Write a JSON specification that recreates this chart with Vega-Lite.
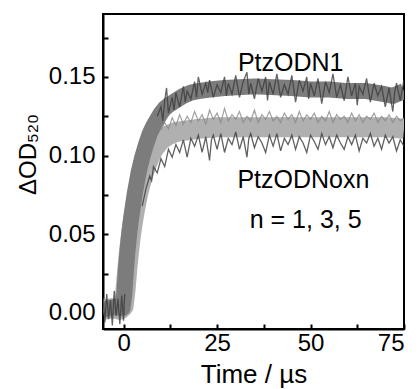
{
  "$schema": "https://vega.github.io/schema/vega-lite/v6.json",
  "autosize": "none",
  "width": 301,
  "height": 315,
  "padding": {"left": 103, "top": 14, "right": 14, "bottom": 60},
  "background": "white",
  "config": {
    "view": {"stroke": "black", "strokeWidth": 2},
    "font": "Liberation Sans",
    "axis": {
      "grid": false,
      "domainColor": "black",
      "domainWidth": 2,
      "tickColor": "black",
      "tickWidth": 2,
      "tickSize": -5,
      "labelFont": "Liberation Sans",
      "labelFontSize": 24,
      "labelColor": "black",
      "titleFont": "Liberation Sans",
      "titleFontWeight": "normal",
      "titleColor": "black"
    }
  },
  "datasets": {
    "centers": [
      {"s": "PtzODNoxn", "t": -5.5, "v": 0.002}, {"s": "PtzODNoxn", "t": -3, "v": 0.003}, {"s": "PtzODNoxn", "t": -1, "v": 0.002}, {"s": "PtzODNoxn", "t": 0, "v": 0.004},
      {"s": "PtzODNoxn", "t": 0.5, "v": 0.014}, {"s": "PtzODNoxn", "t": 1, "v": 0.028}, {"s": "PtzODNoxn", "t": 1.5, "v": 0.040}, {"s": "PtzODNoxn", "t": 2, "v": 0.050},
      {"s": "PtzODNoxn", "t": 2.5, "v": 0.058}, {"s": "PtzODNoxn", "t": 3, "v": 0.065}, {"s": "PtzODNoxn", "t": 4, "v": 0.077}, {"s": "PtzODNoxn", "t": 5, "v": 0.086},
      {"s": "PtzODNoxn", "t": 6, "v": 0.093}, {"s": "PtzODNoxn", "t": 7, "v": 0.099}, {"s": "PtzODNoxn", "t": 8, "v": 0.104}, {"s": "PtzODNoxn", "t": 9, "v": 0.107},
      {"s": "PtzODNoxn", "t": 10, "v": 0.110}, {"s": "PtzODNoxn", "t": 12, "v": 0.113}, {"s": "PtzODNoxn", "t": 14, "v": 0.115}, {"s": "PtzODNoxn", "t": 17, "v": 0.116},
      {"s": "PtzODNoxn", "t": 20, "v": 0.117}, {"s": "PtzODNoxn", "t": 25, "v": 0.118}, {"s": "PtzODNoxn", "t": 30, "v": 0.118}, {"s": "PtzODNoxn", "t": 40, "v": 0.118},
      {"s": "PtzODNoxn", "t": 50, "v": 0.118}, {"s": "PtzODNoxn", "t": 60, "v": 0.118}, {"s": "PtzODNoxn", "t": 70, "v": 0.118}, {"s": "PtzODNoxn", "t": 75, "v": 0.117},
      {"s": "PtzODN1", "t": -5.5, "v": 0.002}, {"s": "PtzODN1", "t": -4, "v": 0.003}, {"s": "PtzODN1", "t": -2, "v": 0.004}, {"s": "PtzODN1", "t": -0.3, "v": 0.003},
      {"s": "PtzODN1", "t": 0.2, "v": 0.012}, {"s": "PtzODN1", "t": 0.6, "v": 0.026}, {"s": "PtzODN1", "t": 1, "v": 0.038}, {"s": "PtzODN1", "t": 1.5, "v": 0.050}, {"s": "PtzODN1", "t": 2, "v": 0.060},
      {"s": "PtzODN1", "t": 2.5, "v": 0.068}, {"s": "PtzODN1", "t": 3, "v": 0.076}, {"s": "PtzODN1", "t": 4, "v": 0.089}, {"s": "PtzODN1", "t": 5, "v": 0.099},
      {"s": "PtzODN1", "t": 6, "v": 0.107}, {"s": "PtzODN1", "t": 7, "v": 0.114}, {"s": "PtzODN1", "t": 8, "v": 0.119}, {"s": "PtzODN1", "t": 9, "v": 0.123},
      {"s": "PtzODN1", "t": 10, "v": 0.127}, {"s": "PtzODN1", "t": 11, "v": 0.130}, {"s": "PtzODN1", "t": 12, "v": 0.132}, {"s": "PtzODN1", "t": 14, "v": 0.135},
      {"s": "PtzODN1", "t": 16, "v": 0.138}, {"s": "PtzODN1", "t": 18, "v": 0.140}, {"s": "PtzODN1", "t": 20, "v": 0.141}, {"s": "PtzODN1", "t": 23, "v": 0.142},
      {"s": "PtzODN1", "t": 27, "v": 0.143}, {"s": "PtzODN1", "t": 35, "v": 0.144}, {"s": "PtzODN1", "t": 45, "v": 0.143}, {"s": "PtzODN1", "t": 50, "v": 0.142},
      {"s": "PtzODN1", "t": 55, "v": 0.142}, {"s": "PtzODN1", "t": 60, "v": 0.141}, {"s": "PtzODN1", "t": 65, "v": 0.141}, {"s": "PtzODN1", "t": 70, "v": 0.139},
      {"s": "PtzODN1", "t": 72, "v": 0.138}, {"s": "PtzODN1", "t": 75, "v": 0.141}
    ],
    "noise": [
      {"s": "B", "t": -5.5, "v": 0.010}, {"s": "B", "t": -5, "v": -0.006}, {"s": "B", "t": -4.5, "v": 0.012}, {"s": "B", "t": -4, "v": -0.004},
      {"s": "B", "t": -3.5, "v": 0.008}, {"s": "B", "t": -3, "v": -0.008}, {"s": "B", "t": -2.5, "v": 0.014}, {"s": "B", "t": -2, "v": -0.002},
      {"s": "B", "t": -1.5, "v": 0.009}, {"s": "B", "t": -1, "v": -0.007}, {"s": "B", "t": -0.5, "v": 0.011}, {"s": "B", "t": 0, "v": -0.005}, {"s": "B", "t": 0.3, "v": 0.012},
      {"s": "N1", "t": 9, "v": 0.125}, {"s": "N1", "t": 10, "v": 0.131}, {"s": "N1", "t": 10.5, "v": 0.122}, {"s": "N1", "t": 11, "v": 0.135},
      {"s": "N1", "t": 11.5, "v": 0.143}, {"s": "N1", "t": 12, "v": 0.127}, {"s": "N1", "t": 13, "v": 0.137}, {"s": "N1", "t": 13.5, "v": 0.129},
      {"s": "N1", "t": 14, "v": 0.140}, {"s": "N1", "t": 15, "v": 0.131}, {"s": "N1", "t": 16, "v": 0.144}, {"s": "N1", "t": 16.5, "v": 0.134},
      {"s": "N1", "t": 17, "v": 0.141}, {"s": "N1", "t": 18, "v": 0.136}, {"s": "N1", "t": 19, "v": 0.147}, {"s": "N1", "t": 19.5, "v": 0.137},
      {"s": "N1", "t": 20, "v": 0.150}, {"s": "N1", "t": 21, "v": 0.139}, {"s": "N1", "t": 22, "v": 0.146}, {"s": "N1", "t": 22.5, "v": 0.140},
      {"s": "N1", "t": 23, "v": 0.148}, {"s": "N1", "t": 24, "v": 0.137}, {"s": "N1", "t": 25, "v": 0.145}, {"s": "N1", "t": 26, "v": 0.140},
      {"s": "N1", "t": 27, "v": 0.150}, {"s": "N1", "t": 27.5, "v": 0.138}, {"s": "N1", "t": 28, "v": 0.146}, {"s": "N1", "t": 29, "v": 0.139},
      {"s": "N1", "t": 30, "v": 0.151}, {"s": "N1", "t": 31, "v": 0.137}, {"s": "N1", "t": 32, "v": 0.147}, {"s": "N1", "t": 33, "v": 0.153},
      {"s": "N1", "t": 33.5, "v": 0.139}, {"s": "N1", "t": 34, "v": 0.146}, {"s": "N1", "t": 35, "v": 0.136}, {"s": "N1", "t": 36, "v": 0.149},
      {"s": "N1", "t": 37, "v": 0.141}, {"s": "N1", "t": 38, "v": 0.150}, {"s": "N1", "t": 38.5, "v": 0.135}, {"s": "N1", "t": 39, "v": 0.147},
      {"s": "N1", "t": 40, "v": 0.139}, {"s": "N1", "t": 41, "v": 0.152}, {"s": "N1", "t": 42, "v": 0.137}, {"s": "N1", "t": 43, "v": 0.145},
      {"s": "N1", "t": 44, "v": 0.139}, {"s": "N1", "t": 45, "v": 0.151}, {"s": "N1", "t": 46, "v": 0.134}, {"s": "N1", "t": 47, "v": 0.148},
      {"s": "N1", "t": 48, "v": 0.141}, {"s": "N1", "t": 49, "v": 0.150}, {"s": "N1", "t": 49.5, "v": 0.136}, {"s": "N1", "t": 50, "v": 0.146},
      {"s": "N1", "t": 51, "v": 0.138}, {"s": "N1", "t": 52, "v": 0.149}, {"s": "N1", "t": 53, "v": 0.133}, {"s": "N1", "t": 54, "v": 0.147},
      {"s": "N1", "t": 55, "v": 0.140}, {"s": "N1", "t": 56, "v": 0.152}, {"s": "N1", "t": 57, "v": 0.137}, {"s": "N1", "t": 58, "v": 0.145},
      {"s": "N1", "t": 59, "v": 0.135}, {"s": "N1", "t": 60, "v": 0.150}, {"s": "N1", "t": 61, "v": 0.138}, {"s": "N1", "t": 62, "v": 0.146},
      {"s": "N1", "t": 62.5, "v": 0.132}, {"s": "N1", "t": 63, "v": 0.144}, {"s": "N1", "t": 64, "v": 0.139}, {"s": "N1", "t": 65, "v": 0.149},
      {"s": "N1", "t": 66, "v": 0.134}, {"s": "N1", "t": 67, "v": 0.146}, {"s": "N1", "t": 68, "v": 0.138}, {"s": "N1", "t": 69, "v": 0.144},
      {"s": "N1", "t": 70, "v": 0.131}, {"s": "N1", "t": 71, "v": 0.143}, {"s": "N1", "t": 72, "v": 0.128}, {"s": "N1", "t": 72.5, "v": 0.140},
      {"s": "N1", "t": 73, "v": 0.146}, {"s": "N1", "t": 74, "v": 0.135}, {"s": "N1", "t": 75, "v": 0.148},
      {"s": "OX", "t": 5, "v": 0.068}, {"s": "OX", "t": 6, "v": 0.079}, {"s": "OX", "t": 7, "v": 0.087}, {"s": "OX", "t": 7.5, "v": 0.084},
      {"s": "OX", "t": 8, "v": 0.093}, {"s": "OX", "t": 9, "v": 0.089}, {"s": "OX", "t": 10, "v": 0.098}, {"s": "OX", "t": 11, "v": 0.093},
      {"s": "OX", "t": 12, "v": 0.104}, {"s": "OX", "t": 13, "v": 0.099}, {"s": "OX", "t": 14, "v": 0.107}, {"s": "OX", "t": 15, "v": 0.102},
      {"s": "OX", "t": 16, "v": 0.110}, {"s": "OX", "t": 17, "v": 0.099}, {"s": "OX", "t": 18, "v": 0.111}, {"s": "OX", "t": 19, "v": 0.106},
      {"s": "OX", "t": 20, "v": 0.113}, {"s": "OX", "t": 21, "v": 0.102}, {"s": "OX", "t": 22, "v": 0.112}, {"s": "OX", "t": 23, "v": 0.097},
      {"s": "OX", "t": 23.5, "v": 0.110}, {"s": "OX", "t": 24, "v": 0.113}, {"s": "OX", "t": 25, "v": 0.104}, {"s": "OX", "t": 26, "v": 0.114},
      {"s": "OX", "t": 27, "v": 0.102}, {"s": "OX", "t": 28, "v": 0.111}, {"s": "OX", "t": 29, "v": 0.107}, {"s": "OX", "t": 30, "v": 0.115},
      {"s": "OX", "t": 31, "v": 0.104}, {"s": "OX", "t": 32, "v": 0.112}, {"s": "OX", "t": 33, "v": 0.099}, {"s": "OX", "t": 33.5, "v": 0.111},
      {"s": "OX", "t": 34, "v": 0.114}, {"s": "OX", "t": 35, "v": 0.105}, {"s": "OX", "t": 36, "v": 0.112}, {"s": "OX", "t": 37, "v": 0.108},
      {"s": "OX", "t": 38, "v": 0.102}, {"s": "OX", "t": 39, "v": 0.113}, {"s": "OX", "t": 40, "v": 0.106}, {"s": "OX", "t": 41, "v": 0.114},
      {"s": "OX", "t": 42, "v": 0.103}, {"s": "OX", "t": 43, "v": 0.111}, {"s": "OX", "t": 44, "v": 0.107}, {"s": "OX", "t": 45, "v": 0.113},
      {"s": "OX", "t": 46, "v": 0.104}, {"s": "OX", "t": 47, "v": 0.112}, {"s": "OX", "t": 48, "v": 0.108}, {"s": "OX", "t": 49, "v": 0.102},
      {"s": "OX", "t": 50, "v": 0.113}, {"s": "OX", "t": 51, "v": 0.109}, {"s": "OX", "t": 52, "v": 0.104}, {"s": "OX", "t": 53, "v": 0.114},
      {"s": "OX", "t": 54, "v": 0.107}, {"s": "OX", "t": 55, "v": 0.112}, {"s": "OX", "t": 56, "v": 0.105}, {"s": "OX", "t": 57, "v": 0.113},
      {"s": "OX", "t": 58, "v": 0.108}, {"s": "OX", "t": 59, "v": 0.104}, {"s": "OX", "t": 60, "v": 0.112}, {"s": "OX", "t": 61, "v": 0.107},
      {"s": "OX", "t": 62, "v": 0.113}, {"s": "OX", "t": 63, "v": 0.103}, {"s": "OX", "t": 64, "v": 0.111}, {"s": "OX", "t": 65, "v": 0.108},
      {"s": "OX", "t": 66, "v": 0.114}, {"s": "OX", "t": 67, "v": 0.106}, {"s": "OX", "t": 68, "v": 0.111}, {"s": "OX", "t": 69, "v": 0.104},
      {"s": "OX", "t": 70, "v": 0.113}, {"s": "OX", "t": 71, "v": 0.108}, {"s": "OX", "t": 72, "v": 0.112}, {"s": "OX", "t": 73, "v": 0.103},
      {"s": "OX", "t": 74, "v": 0.110}, {"s": "OX", "t": 75, "v": 0.106},
      {"s": "OXU", "t": 10, "v": 0.116}, {"s": "OXU", "t": 11, "v": 0.121}, {"s": "OXU", "t": 12, "v": 0.117}, {"s": "OXU", "t": 13, "v": 0.124},
      {"s": "OXU", "t": 14, "v": 0.119}, {"s": "OXU", "t": 15, "v": 0.126}, {"s": "OXU", "t": 16, "v": 0.120}, {"s": "OXU", "t": 17, "v": 0.125},
      {"s": "OXU", "t": 18, "v": 0.121}, {"s": "OXU", "t": 19, "v": 0.128}, {"s": "OXU", "t": 20, "v": 0.122}, {"s": "OXU", "t": 21, "v": 0.126},
      {"s": "OXU", "t": 22, "v": 0.120}, {"s": "OXU", "t": 23, "v": 0.129}, {"s": "OXU", "t": 24, "v": 0.123}, {"s": "OXU", "t": 25, "v": 0.127},
      {"s": "OXU", "t": 26, "v": 0.121}, {"s": "OXU", "t": 27, "v": 0.130}, {"s": "OXU", "t": 28, "v": 0.122}, {"s": "OXU", "t": 29, "v": 0.126},
      {"s": "OXU", "t": 30, "v": 0.123}, {"s": "OXU", "t": 31, "v": 0.128}, {"s": "OXU", "t": 32, "v": 0.121}, {"s": "OXU", "t": 33, "v": 0.125},
      {"s": "OXU", "t": 34, "v": 0.122}, {"s": "OXU", "t": 35, "v": 0.129}, {"s": "OXU", "t": 36, "v": 0.121}, {"s": "OXU", "t": 37, "v": 0.126},
      {"s": "OXU", "t": 38, "v": 0.123}, {"s": "OXU", "t": 39, "v": 0.128}, {"s": "OXU", "t": 40, "v": 0.122}, {"s": "OXU", "t": 41, "v": 0.125},
      {"s": "OXU", "t": 42, "v": 0.121}, {"s": "OXU", "t": 43, "v": 0.127}, {"s": "OXU", "t": 44, "v": 0.123}, {"s": "OXU", "t": 45, "v": 0.126},
      {"s": "OXU", "t": 46, "v": 0.121}, {"s": "OXU", "t": 47, "v": 0.128}, {"s": "OXU", "t": 48, "v": 0.122}, {"s": "OXU", "t": 49, "v": 0.126},
      {"s": "OXU", "t": 50, "v": 0.123}, {"s": "OXU", "t": 51, "v": 0.127}, {"s": "OXU", "t": 52, "v": 0.121}, {"s": "OXU", "t": 53, "v": 0.125},
      {"s": "OXU", "t": 54, "v": 0.122}, {"s": "OXU", "t": 55, "v": 0.128}, {"s": "OXU", "t": 56, "v": 0.121}, {"s": "OXU", "t": 57, "v": 0.126},
      {"s": "OXU", "t": 58, "v": 0.123}, {"s": "OXU", "t": 59, "v": 0.125}, {"s": "OXU", "t": 60, "v": 0.121}, {"s": "OXU", "t": 61, "v": 0.127},
      {"s": "OXU", "t": 62, "v": 0.122}, {"s": "OXU", "t": 63, "v": 0.126}, {"s": "OXU", "t": 64, "v": 0.121}, {"s": "OXU", "t": 65, "v": 0.125},
      {"s": "OXU", "t": 66, "v": 0.123}, {"s": "OXU", "t": 67, "v": 0.127}, {"s": "OXU", "t": 68, "v": 0.121}, {"s": "OXU", "t": 69, "v": 0.125},
      {"s": "OXU", "t": 70, "v": 0.122}, {"s": "OXU", "t": 71, "v": 0.126}, {"s": "OXU", "t": 72, "v": 0.121}, {"s": "OXU", "t": 73, "v": 0.125},
      {"s": "OXU", "t": 74, "v": 0.122}, {"s": "OXU", "t": 75, "v": 0.124}
    ],
    "labels": [
      {"label": "PtzODN1", "t": 44.7, "v": 0.159},
      {"label": "PtzODNoxn", "t": 48.1, "v": 0.0847},
      {"label": "n = 1, 3, 5", "t": 48.7, "v": 0.0592}
    ]
  },
  "encoding": {
    "x": {
      "field": "t", "type": "quantitative",
      "scale": {"domain": [-5.5, 75], "nice": false, "zero": false},
      "axis": {
        "title": "Time / µs",
        "titleFontSize": 26,
        "values": [0, 12.5, 25, 37.5, 50, 62.5, 75],
        "labelExpr": "datum.value % 25 == 0 ? datum.label : ''",
        "labelPadding": 7,
        "titlePadding": 6
      }
    },
    "y": {
      "field": "v", "type": "quantitative",
      "scale": {"domain": [-0.0102, 0.19], "nice": false, "zero": false},
      "axis": {
        "title": "ΔOD₅₂₀",
        "titleFontSize": 24,
        "titleY": 140,
        "format": ".2f",
        "values": [0, 0.025, 0.05, 0.075, 0.1, 0.125, 0.15, 0.175],
        "labelExpr": "round(datum.value * 1000) % 50 == 0 ? datum.label : ''",
        "labelPadding": 13,
        "titlePadding": 8
      }
    }
  },
  "layer": [
    {
      "data": {"name": "centers"},
      "transform": [{"filter": "datum.s == 'PtzODNoxn'"}],
      "mark": {"type": "line", "strokeWidth": 20, "color": "#b0b0b0", "strokeCap": "butt", "strokeJoin": "round", "clip": true}
    },
    {
      "data": {"name": "noise"},
      "transform": [{"filter": "datum.s == 'OXU'"}],
      "mark": {"type": "line", "strokeWidth": 1.2, "color": "#8a8a8a", "opacity": 0.8, "clip": true}
    },
    {
      "data": {"name": "noise"},
      "transform": [{"filter": "datum.s == 'OX'"}],
      "mark": {"type": "line", "strokeWidth": 1.3, "color": "#444444", "opacity": 0.85, "clip": true}
    },
    {
      "data": {"name": "centers"},
      "transform": [{"filter": "datum.s == 'PtzODN1'"}],
      "mark": {"type": "line", "strokeWidth": 16, "color": "#7c7c7c", "strokeCap": "butt", "strokeJoin": "round", "clip": true}
    },
    {
      "data": {"name": "noise"},
      "transform": [{"filter": "datum.s == 'N1' || datum.s == 'B'"}],
      "mark": {"type": "line", "strokeWidth": 1.3, "color": "#3c3c3c", "opacity": 0.8, "clip": true},
      "encoding": {"detail": {"field": "s"}}
    },
    {
      "data": {"name": "labels"},
      "mark": {"type": "text", "font": "Liberation Sans", "fontSize": 25, "color": "black", "align": "center", "baseline": "middle"},
      "encoding": {"text": {"field": "label"}}
    }
  ]
}
